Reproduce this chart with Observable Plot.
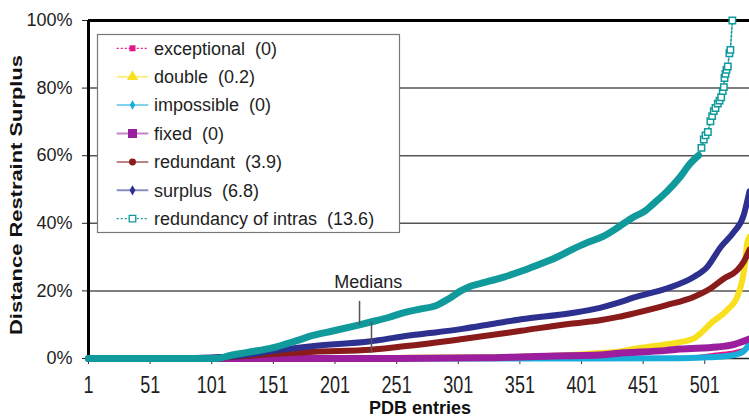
<!DOCTYPE html>
<html><head><meta charset="utf-8">
<script src="https://cdn.jsdelivr.net/npm/d3@7"></script>
<script src="https://cdn.jsdelivr.net/npm/@observablehq/plot@0.6"></script>
<style>
html,body{margin:0;padding:0;background:#fff;}
#wrap{position:relative;width:749px;height:419px;overflow:hidden;}
</style></head><body><div id="wrap"></div>
<script>
// ---------- data ----------
const seriesNames = ["exceptional","double","impossible","fixed","redundant","surplus","redundancy of intras"];
const seriesMedians = [0, 0.2, 0, 0, 3.9, 6.8, 13.6];
const xTicks = [1,51,101,151,201,251,301,351,401,451,501];
const yTicks = [0,20,40,60,80,100];
const xTitle = "PDB entries";
const yTitle = "Distance Restraint Surplus";

const exceptionalVals = [[1,0],[470,0],[500,0.8],[510,1.3],[525,2.0],[537.3,3.2]];
const doubleVals = [[1,0],[150,0],[260,0.2],[350,0.5],[392,1.0],[416,1.6],[431,2.0],[443,2.8],[470,4.2],[492,5.9],[497.5,7.4],[505.6,10.3],[519,14.3],[527.3,18.2],[531.4,23.1],[533.3,27.1],[535.4,34.0],[537.3,36.0]];
const impossibleVals = [[1,0],[400,0],[480,0.1],[500,0.3],[515,0.6],[524.5,1.0],[532,2.0],[537.3,4.3]];
const fixedVals = [[1,0],[250,0],[320,0.2],[373,0.7],[416,1.0],[427,1.4],[470,2.4],[481,2.8],[511,3.4],[525,4.2],[537.3,5.8]];
const redundantVals = [[1,0],[90,0],[120,0.5],[151,1.3],[184,2.0],[230,2.6],[257,3.6],[303,5.7],[352,8.2],[392,10.3],[416,11.3],[431,12.3],[443,13.3],[470,15.8],[492,18.2],[505.6,20.7],[516.4,23.6],[527.3,26.1],[532.6,28.6],[537.3,32.2]];
const surplusVals = [[1,0],[60,0],[100,0.3],[124,0.8],[151,2.3],[184,3.7],[230,5.1],[257,6.6],[280,7.6],[303,8.7],[330,10.3],[352,11.6],[392,13.4],[416,15.0],[431,16.5],[443,18.0],[470,20.7],[492,24.1],[503,27.1],[514,33.0],[524.5,37.4],[532.6,42.4],[535.3,46.3],[537.3,49.5]];
const intrasDenseVals = [[1,0],[105,0],[116,0.9],[130,1.8],[151,3.2],[170,5.3],[184,6.9],[200,8.2],[220,9.9],[230,10.8],[245,12.2],[257,13.6],[270,14.6],[284,15.8],[293,17.6],[303,20.0],[311,21.4],[320,22.3],[338,24.1],[352,25.8],[365,27.6],[380,29.8],[392,32.0],[405,34.2],[419,36.2],[431,38.9],[443,41.8],[452,43.5],[460,46.0],[470,49.3],[481,53.7],[489,57.6],[496,60.1]];
const intrasSparseVals = [[496,60.1],[498.3,62.3],[500.2,64.8],[501.6,66.0],[503.5,67.0],[505.6,70.2],[507,71.7],[508.3,73.2],[509.7,74.1],[511.6,75.4],[513,76.3],[514.3,77.3],[515.6,79.1],[516.5,80.3],[517,83.0],[517.8,84.2],[518.6,85.4],[519.7,86.4],[521,90.3],[521.8,91.3],[523.4,100]];
const medianNote = [{entry: 228, value: 22.55, text: "Medians"}];
const medianTicks = [{entry: 220.9, from: 9.8, to: 16.9}, {entry: 230.6, from: 1.6, to: 10.7}];

// ---------- styles ----------
const FONT = '"Liberation Sans", Arial, sans-serif';
const colors = ["#E4168C","#F8E01E","#19AEDA","#9B1E9F","#8A1B1B","#2E3090","#109A9C"];
const widths = [3, 6, 6, 7, 6, 6, 7];

const seriesVals = [exceptionalVals, doubleVals, impossibleVals, fixedVals, redundantVals, surplusVals, intrasDenseVals];
const toRows = (vals, name) => vals.map(([e, v]) => ({series: name, entry: e, value: v}));

const lineMarks = seriesVals.map((vals, i) =>
  Plot.line(toRows(vals, seriesNames[i]), {x: "entry", y: "value", stroke: colors[i], strokeWidth: widths[i],
    curve: "monotone-x", strokeLinejoin: "round", strokeLinecap: "round"}));

const sparseRows = toRows(intrasSparseVals, seriesNames[6]);

const chart = Plot.plot({
  width: 749, height: 419,
  marginLeft: 88, marginRight: 0, marginTop: 20, marginBottom: 61,
  x: {domain: [1, 537.3]},
  y: {domain: [0, 100]},
  style: {fontFamily: FONT, fontSize: "18px", background: "white", color: "#1e1e1e", overflow: "hidden"},
  marks: [
    Plot.ruleY([20, 40, 60, 80], {stroke: "#555", strokeWidth: 1.5}),
    Plot.ruleY([0], {stroke: "#222", strokeWidth: 1.5}),
    Plot.axisY({ticks: yTicks, tickFormat: d => d + "%", tickSize: 6, tickPadding: 10, fontSize: 18, label: null, stroke: "#222"}),
    Plot.axisX({ticks: xTicks, tickFormat: d => String(d), tickSize: 6, tickPadding: 12, fontSize: 18, label: null, stroke: "#333"}),
    Plot.ruleY([100], {stroke: "#000", strokeWidth: 3}),
    Plot.ruleX([1], {stroke: "#000", strokeWidth: 3}),
    ...lineMarks,
    Plot.line(sparseRows, {x: "entry", y: "value", stroke: colors[6], strokeWidth: 1.6, strokeDasharray: "2,2"}),
    Plot.dot(sparseRows.slice(1), {x: "entry", y: "value", symbol: "square", r: 3.6, stroke: colors[6], strokeWidth: 1.5, fill: "white"}),
    Plot.ruleX(medianTicks, {x: "entry", y1: "from", y2: "to", stroke: "#555", strokeWidth: 1.5}),
    Plot.text(medianNote, {x: "entry", y: "value", text: "text", fontSize: 18, fill: "#222"})
  ]
});

document.getElementById("wrap").appendChild(chart);
const svg = d3.select(chart);

// stretch x tick labels vertically as in the reference
svg.selectAll('g[aria-label="x-axis tick label"] text').each(function () {
  const t = this.getAttribute("transform") || "";
  this.setAttribute("transform", t + " scale(1,1.3)");
});

// axis titles
svg.append("text").attr("transform", "translate(420,414)")
  .attr("text-anchor", "middle").attr("font-weight", "bold").attr("font-size", 18)
  .attr("font-family", FONT).attr("fill", "#111").text(xTitle);
svg.append("text").attr("transform", "translate(21.5,195) rotate(-90) scale(1.37,1)")
  .attr("text-anchor", "middle").attr("font-weight", "bold").attr("font-size", 16)
  .attr("font-family", FONT).attr("fill", "#111").text(yTitle);

// legend
const leg = svg.append("g").attr("transform", "translate(97,34)").attr("text-anchor", "start");
leg.append("rect").attr("x", 0.5).attr("y", 0.5).attr("width", 302).attr("height", 198)
  .attr("fill", "white").attr("stroke", "#777").attr("stroke-width", 1.2);
const symbols = [
  {type: d3.symbolSquare, size: 36, hollow: false, dashed: true},
  {type: d3.symbolTriangle, size: 55, hollow: false, dashed: false},
  {type: d3.symbolDiamond, size: 26, hollow: false, dashed: false},
  {type: d3.symbolSquare, size: 81, hollow: false, dashed: false},
  {type: d3.symbolCircle, size: 38, hollow: false, dashed: false},
  {type: d3.symbolDiamond, size: 30, hollow: false, dashed: false},
  {type: d3.symbolSquare, size: 42, hollow: true, dashed: true}
];
seriesNames.forEach((name, i) => {
  const y = 14.3 + i * 28.4;
  const g = leg.append("g").attr("transform", `translate(0,${y})`);
  const s = symbols[i];
  g.append("line").attr("x1", 19.7).attr("x2", 51.3).attr("y1", 0).attr("y2", 0)
    .attr("stroke", colors[i]).attr("stroke-width", s.dashed ? 1.3 : 2)
    .attr("stroke-opacity", s.dashed ? 1 : 0.55)
    .attr("stroke-dasharray", s.dashed ? "2,2" : null);
  g.append("path").attr("transform", "translate(35.5,0)")
    .attr("d", d3.symbol(s.type, s.size)())
    .attr("fill", s.hollow ? "white" : colors[i])
    .attr("stroke", s.hollow ? colors[i] : "none").attr("stroke-width", 1.3);
  g.append("text").attr("x", 57).attr("y", 0).attr("dy", "0.35em")
    .attr("text-anchor", "start")
    .attr("font-size", 18).attr("font-family", FONT).attr("fill", "#1e1e1e")
    .style("white-space", "pre")
    .text(`${name}  (${seriesMedians[i]})`);
});
</script></body></html>
